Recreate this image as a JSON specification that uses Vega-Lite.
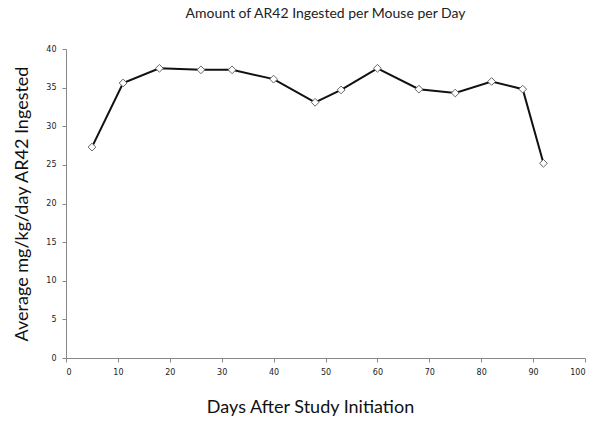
{
  "$schema": "https://vega.github.io/schema/vega-lite/v6.json",
  "autosize": {"type": "none"},
  "padding": {"left": 66, "top": 49, "right": 15, "bottom": 69},
  "width": 519,
  "height": 309,
  "background": "white",
  "title": {
    "text": "Amount of AR42 Ingested per Mouse per Day",
    "font": "Lato",
    "fontSize": 14,
    "fontWeight": "normal",
    "color": "#222222",
    "anchor": "middle",
    "offset": 24
  },
  "data": {
    "values": [
      {"day": 5, "value": 27.3},
      {"day": 11, "value": 35.6},
      {"day": 18, "value": 37.5},
      {"day": 26, "value": 37.3},
      {"day": 32, "value": 37.3},
      {"day": 40, "value": 36.1},
      {"day": 48, "value": 33.1},
      {"day": 53, "value": 34.7},
      {"day": 60, "value": 37.5},
      {"day": 68, "value": 34.8},
      {"day": 75, "value": 34.3},
      {"day": 82, "value": 35.8},
      {"day": 88, "value": 34.8},
      {"day": 92, "value": 25.2}
    ]
  },
  "encoding": {
    "x": {
      "field": "day",
      "type": "quantitative",
      "scale": {"domain": [0, 100], "nice": false, "zero": true},
      "axis": {
        "title": "Days After Study Initiation",
        "titleFont": "Lato",
        "titleFontSize": 18,
        "titleFontWeight": "normal",
        "titleColor": "#111111",
        "titlePadding": 22,
        "titleX": 244,
        "values": [0, 10, 20, 30, 40, 50, 60, 70, 80, 90, 100],
        "labelFont": "DejaVu Sans",
        "labelFontSize": 8,
        "labelColor": "#222222",
        "labelPadding": 6,
        "domainColor": "#888888",
        "tickColor": "#888888",
        "tickSize": 4,
        "grid": false
      }
    },
    "y": {
      "field": "value",
      "type": "quantitative",
      "scale": {"domain": [0, 40], "nice": false},
      "axis": {
        "title": "Average mg/kg/day AR42 Ingested",
        "titleFont": "Lato",
        "titleFontSize": 18,
        "titleFontWeight": "normal",
        "titleColor": "#111111",
        "titlePadding": 14,
        "values": [0, 5, 10, 15, 20, 25, 30, 35, 40],
        "labelFont": "DejaVu Sans",
        "labelFontSize": 8,
        "labelColor": "#222222",
        "labelPadding": 6,
        "domainColor": "#888888",
        "tickColor": "#888888",
        "tickSize": 4,
        "grid": false
      }
    }
  },
  "layer": [
    {"mark": {"type": "line", "color": "#111111", "strokeWidth": 2}},
    {"mark": {"type": "point", "shape": "diamond", "filled": true, "fill": "white", "stroke": "#666666", "strokeWidth": 1, "size": 60, "opacity": 1}}
  ],
  "config": {"view": {"stroke": null}}
}
